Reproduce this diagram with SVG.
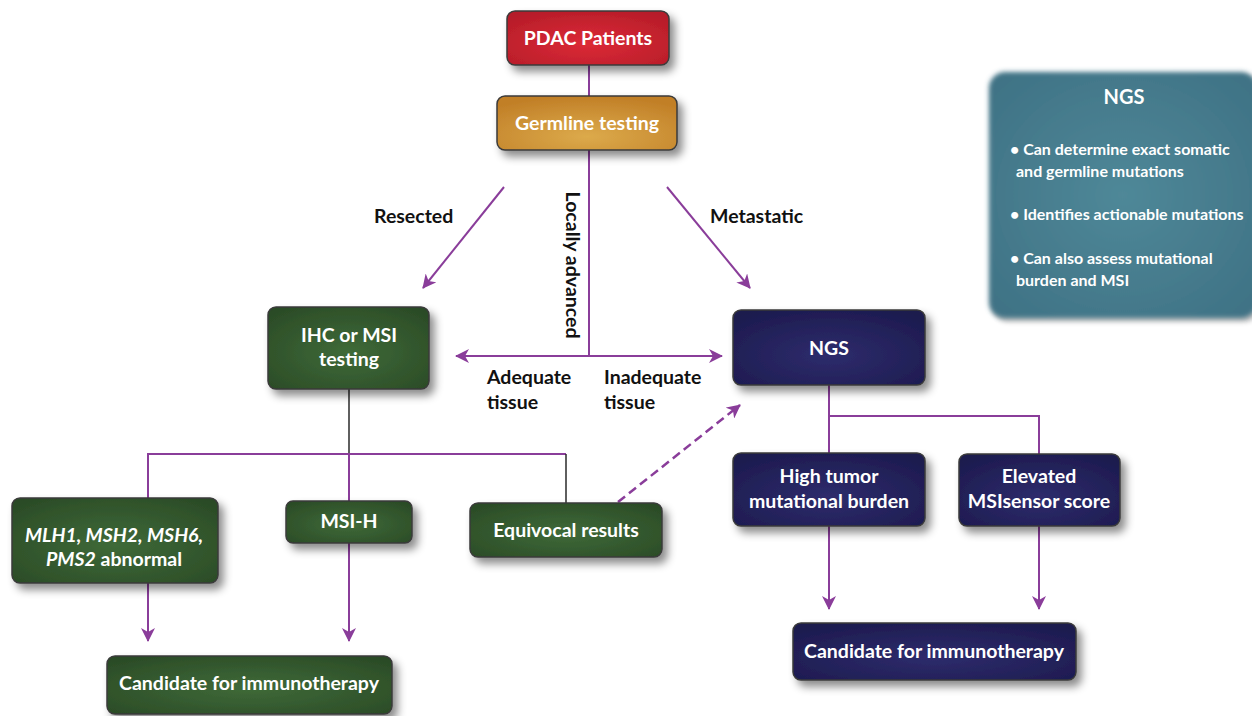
<svg xmlns="http://www.w3.org/2000/svg" width="1252" height="716" viewBox="0 0 1252 716">
<defs>
  <filter id="shadow" x="-20%" y="-30%" width="150%" height="170%">
    <feDropShadow dx="5" dy="6" stdDeviation="4" flood-color="#000" flood-opacity="0.45"/>
  </filter>
  <filter id="soft" x="-10%" y="-10%" width="120%" height="120%">
    <feGaussianBlur stdDeviation="2.5"/>
  </filter>
  <radialGradient id="gRed" cx="50%" cy="60%" r="70%">
    <stop offset="0" stop-color="#dc2a36"/>
    <stop offset="1" stop-color="#b51c29"/>
  </radialGradient>
  <radialGradient id="gOrange" cx="50%" cy="75%" r="75%">
    <stop offset="0" stop-color="#dcaa4b"/>
    <stop offset="1" stop-color="#c17f27"/>
  </radialGradient>
  <radialGradient id="gGreen" cx="50%" cy="55%" r="70%">
    <stop offset="0" stop-color="#3f6a38"/>
    <stop offset="1" stop-color="#2a4a26"/>
  </radialGradient>
  <radialGradient id="gNavy" cx="50%" cy="60%" r="70%">
    <stop offset="0" stop-color="#2e2c6c"/>
    <stop offset="1" stop-color="#1c1a4e"/>
  </radialGradient>
  <radialGradient id="gTeal" cx="50%" cy="50%" r="70%">
    <stop offset="0" stop-color="#4f8898"/>
    <stop offset="1" stop-color="#3e7184"/>
  </radialGradient>
  <marker id="arr" viewBox="0 0 14 14" markerWidth="14" markerHeight="14" refX="13" refY="7" orient="auto" markerUnits="userSpaceOnUse">
    <path d="M0,0 L14,7 L0,14 L4,7 z" fill="#8a3d9a"/>
  </marker>
  <style>
    .box { stroke: #3a3a3a; stroke-width: 1.5; filter: url(#shadow); }
    .red { fill: url(#gRed); }
    .orange { fill: url(#gOrange); }
    .green { fill: url(#gGreen); }
    .navy { fill: url(#gNavy); }
    .t { font-family: Lato, "Open Sans", "Liberation Sans", sans-serif; font-weight: bold; fill: #ffffff; font-size: 19.5px; text-anchor: middle; }
    .lbl { font-family: Lato, "Open Sans", "Liberation Sans", sans-serif; font-weight: bold; fill: #111111; font-size: 19.5px; }
    .info { font-family: Lato, "Open Sans", "Liberation Sans", sans-serif; font-weight: bold; fill: #ffffff; font-size: 16px; }
    .info-title { font-family: Lato, "Open Sans", "Liberation Sans", sans-serif; font-weight: bold; fill: #ffffff; font-size: 20px; text-anchor: middle; }
    .p { stroke: #8a3d9a; stroke-width: 2; fill: none; }
    .k { stroke: #2a2a2a; stroke-width: 1.5; fill: none; }
    .dash { stroke: #8a3d9a; stroke-width: 2.5; fill: none; stroke-dasharray: 9 5; }
  </style>
</defs>
<rect width="1252" height="716" fill="#ffffff"/>

<g id="connectors">
  <line class="p" x1="589" y1="65" x2="589" y2="96"/>
  <line class="p" x1="589" y1="150" x2="589" y2="356"/>
  <line class="p" x1="589" y1="356" x2="456" y2="356" marker-end="url(#arr)"/>
  <line class="p" x1="589" y1="356" x2="722" y2="356" marker-end="url(#arr)"/>
  <line class="p" x1="504" y1="187" x2="423" y2="288" marker-end="url(#arr)"/>
  <line class="p" x1="667" y1="187" x2="750" y2="288" marker-end="url(#arr)"/>
  <line class="k" x1="349" y1="389" x2="349" y2="454"/>
  <polyline class="p" points="148,498 148,454 566,454"/>
  <line class="k" x1="566" y1="454" x2="566" y2="503"/>
  <line class="p" x1="349" y1="454" x2="349" y2="501"/>
  <line class="dash" x1="618" y1="502" x2="740" y2="405" marker-end="url(#arr)"/>
  <line class="p" x1="148" y1="583" x2="148" y2="641" marker-end="url(#arr)"/>
  <line class="p" x1="349" y1="543" x2="349" y2="641" marker-end="url(#arr)"/>
  <polyline class="p" points="829,385 829,453"/>
  <polyline class="p" points="829,416 1039,416 1039,454"/>
  <line class="p" x1="829" y1="526" x2="829" y2="609" marker-end="url(#arr)"/>
  <line class="p" x1="1039" y1="526" x2="1039" y2="609" marker-end="url(#arr)"/>
</g>

<g id="edge-labels">
  <text class="lbl" x="374" y="223">Resected</text>
  <text class="lbl" x="710" y="223">Metastatic</text>
  <text class="lbl" text-anchor="middle" transform="translate(566,265) rotate(90)">Locally advanced</text>
  <text class="lbl" x="487" y="384">Adequate</text>
  <text class="lbl" x="487" y="409">tissue</text>
  <text class="lbl" x="604" y="384">Inadequate</text>
  <text class="lbl" x="604" y="409">tissue</text>
</g>

<g id="pdac">
  <rect class="box red" x="507" y="11" width="162" height="54" rx="8"/>
  <text class="t" x="588" y="45">PDAC Patients</text>
</g>
<g id="germline">
  <rect class="box orange" x="497" y="96" width="180" height="54" rx="8"/>
  <text class="t" x="587" y="130">Germline testing</text>
</g>
<g id="ihc">
  <rect class="box green" x="268" y="307" width="161" height="82" rx="8"/>
  <text class="t" x="349" y="342">IHC or MSI</text>
  <text class="t" x="349" y="366">testing</text>
</g>
<g id="ngs">
  <rect class="box navy" x="733" y="310" width="192" height="75" rx="8"/>
  <text class="t" x="829" y="355">NGS</text>
</g>
<g id="mlh1">
  <rect class="box green" x="12" y="498" width="206" height="85" rx="8"/>
  <text class="t" x="114" y="542"><tspan font-style="italic">MLH1, MSH2, MSH6,</tspan></text>
  <text class="t" x="114" y="566"><tspan font-style="italic">PMS2</tspan> abnormal</text>
</g>
<g id="msih">
  <rect class="box green" x="286" y="501" width="126" height="42" rx="7"/>
  <text class="t" x="349" y="528">MSI-H</text>
</g>
<g id="equivocal">
  <rect class="box green" x="470" y="503" width="192" height="54" rx="8"/>
  <text class="t" x="566" y="537">Equivocal results</text>
</g>
<g id="candidate-left">
  <rect class="box green" x="107" y="656" width="285" height="58" rx="8"/>
  <text class="t" x="249" y="690">Candidate for immunotherapy</text>
</g>
<g id="high-tmb">
  <rect class="box navy" x="733" y="453" width="192" height="73" rx="8"/>
  <text class="t" x="829" y="483">High tumor</text>
  <text class="t" x="829" y="508">mutational burden</text>
</g>
<g id="msisensor">
  <rect class="box navy" x="959" y="454" width="161" height="72" rx="8"/>
  <text class="t" x="1039" y="483">Elevated</text>
  <text class="t" x="1039" y="508">MSIsensor score</text>
</g>
<g id="candidate-right">
  <rect class="box navy" x="793" y="623" width="283" height="57" rx="8"/>
  <text class="t" x="934" y="658">Candidate for immunotherapy</text>
</g>

<g id="ngs-info">
  <rect x="989" y="72" width="268" height="246" rx="16" fill="#000" opacity="0.25" filter="url(#soft)" transform="translate(3,4)"/>
  <rect x="989" y="72" width="268" height="246" rx="16" fill="url(#gTeal)" filter="url(#soft)"/>
  <text class="info-title" x="1124" y="104">NGS</text>
  <text class="info" x="1010" y="155">• Can determine exact somatic</text>
  <text class="info" x="1016" y="177">and germline mutations</text>
  <text class="info" x="1010" y="220">• Identifies actionable mutations</text>
  <text class="info" x="1010" y="264">• Can also assess mutational</text>
  <text class="info" x="1016" y="286">burden and MSI</text>
</g>
</svg>
